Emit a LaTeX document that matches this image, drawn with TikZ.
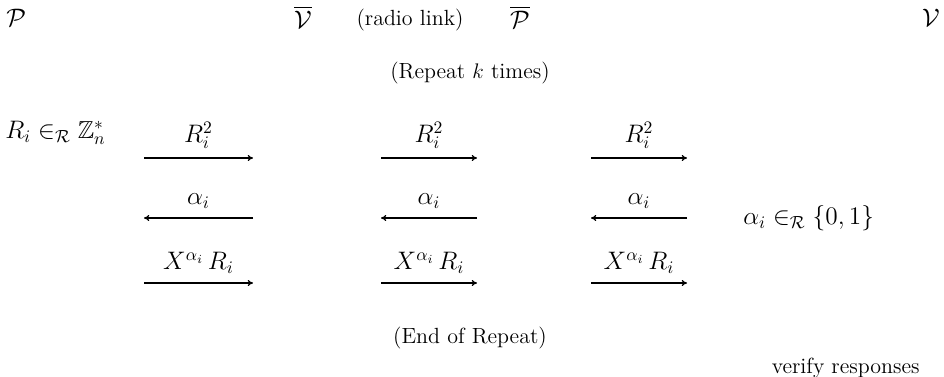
\documentclass[tikz,border=0pt]{standalone}
\usepackage{amsmath,amssymb}
\usetikzlibrary{arrows.meta}
\begin{document}
\begin{tikzpicture}[x=0.02cm,y=-0.02cm,
  txt/.style={inner sep=0pt,font=\fontsize{12.5}{15}\selectfont},
  mth/.style={inner sep=0pt,font=\fontsize{14}{17}\selectfont},
  msg/.style={line width=0.75pt,-{To[length=3pt,width=3.5pt]}},
  lab/.style={above=5pt,inner sep=0pt,font=\fontsize{14}{17}\selectfont}]
\useasboundingbox (0,0) rectangle (944,377);
% header
\node[mth,anchor=west] (P) at (6,18) {$\mathcal{P}$};
\node[mth] (Vb) at (303,17) {$\overline{\mathcal{V}}$};
\node[txt] (radio) at (410,20) {(radio link)};
\node[mth] (Pb) at (520,17) {$\overline{\mathcal{P}}$};
\node[mth,anchor=east] (V) at (940,18) {$\mathcal{V}$};
\node[txt] (rep) at (470,73) {(Repeat $k$ times)};
% left/right annotations
\node[mth,anchor=west] (Rz) at (5,133) {$R_i \in_{\mathcal{R}} \mathbb{Z}_n^*$};
\node[mth,anchor=west] (alr) at (743,218) {$\alpha_i \in_{\mathcal{R}} \{0,1\}$};
% arrow endpoints
\foreach \c/\a/\b in {1/144/253, 2/381/477, 3/591/687}{
  \coordinate (a\c L) at (\a,158); \coordinate (a\c R) at (\b,158);
  \coordinate (b\c L) at (\a,218); \coordinate (b\c R) at (\b,218);
  \coordinate (c\c L) at (\a,283); \coordinate (c\c R) at (\b,283);
  \draw[msg] (a\c L) -- node[lab] {$R_i^2$} (a\c R);
  \draw[msg] (b\c R) -- node[lab] {$\alpha_i$} (b\c L);
  \draw[msg] (c\c L) -- node[lab] {$X^{\alpha_i}\,R_i$} (c\c R);
}
\node[txt] (end) at (470,338) {(End of Repeat)};
\node[txt,anchor=east] (ver) at (920,368) {verify responses};
\end{tikzpicture}
\end{document}
